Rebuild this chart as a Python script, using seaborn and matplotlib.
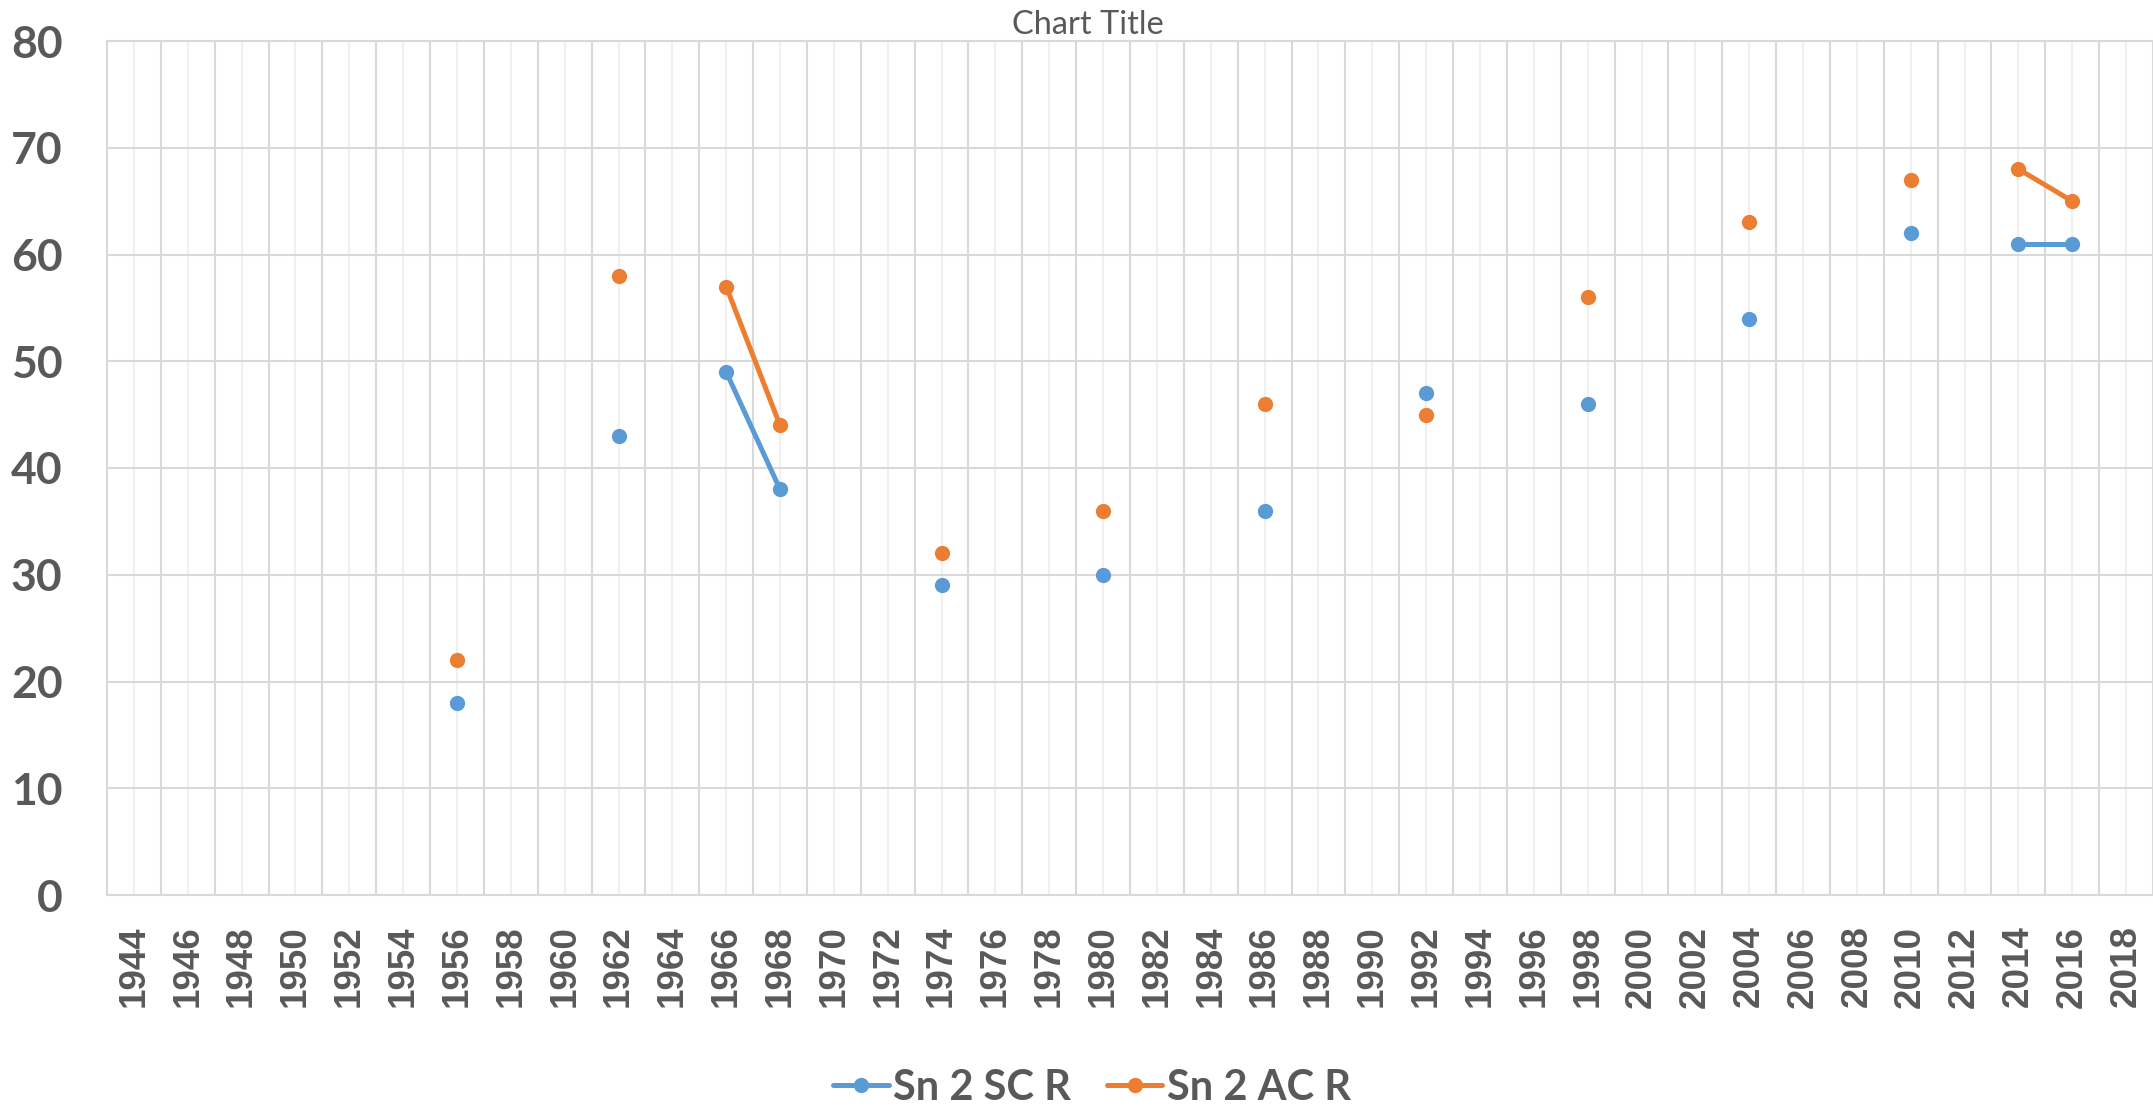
import numpy as np
import pandas as pd
import seaborn as sns
import matplotlib.pyplot as plt
from matplotlib.lines import Line2D
from matplotlib.ticker import MultipleLocator

# even years on the axis, NaN where there is no value
YEARS = list(range(1944, 2019, 2))
SC_POINTS = {1956: 18, 1962: 43, 1966: 49, 1968: 38, 1974: 29, 1980: 30, 1986: 36,
             1992: 47, 1998: 46, 2004: 54, 2010: 62, 2014: 61, 2016: 61}
AC_POINTS = {1956: 22, 1962: 58, 1966: 57, 1968: 44, 1974: 32, 1980: 36, 1986: 46,
             1992: 45, 1998: 56, 2004: 63, 2010: 67, 2014: 68, 2016: 65}
SC_VALUES = [SC_POINTS.get(y, np.nan) for y in YEARS]
AC_VALUES = [AC_POINTS.get(y, np.nan) for y in YEARS]
SERIES = ["Sn 2 SC R", "Sn 2 AC R"]
COLORS = ["#5B9BD5", "#ED7D31"]

TEXT = "#595959"
GRID_DARK = "#D9D9D9"
GRID_LIGHT = "#F0F0F0"


def to_frame(name, values):
    df = pd.DataFrame({"year": YEARS, "value": values, "series": name})
    # break the line wherever a value is missing (Excel "gaps")
    df["seg"] = df["value"].isna().cumsum()
    return df.dropna()


data = pd.concat([to_frame(SERIES[0], SC_VALUES), to_frame(SERIES[1], AC_VALUES)])
data["unit"] = data["series"] + "_" + data["seg"].astype(str)

sns.set_theme(style="white")
plt.rcParams['font.family'] = ['Lato', 'DejaVu Sans']

fig = plt.figure(figsize=(21.53, 11.08), dpi=100)
ax = fig.add_axes([107 / 2153, 1 - 895 / 1108, 1 - 107 / 2153, (895 - 41) / 1108])

sns.lineplot(
    data=data, x="year", y="value", hue="series", hue_order=SERIES,
    palette=COLORS, units="unit", estimator=None, marker="o",
    markersize=11, markeredgewidth=0, linewidth=3.6, legend=False, ax=ax, zorder=3
)

ax.set_xlim(1943, 2018.92)
ax.set_ylim(0, 80)
ax.yaxis.set_major_locator(MultipleLocator(10))
ax.set_xticks(YEARS)
ax.set_xticks(range(1943, 2020, 2), minor=True)
ax.set_xticklabels([str(y) for y in YEARS], rotation=90, fontsize=26.5,
                   fontweight='bold', color=TEXT, family=['Liberation Sans', 'DejaVu Sans'])
ax.tick_params(axis='x', which='both', length=0, pad=22)
ax.tick_params(axis='y', length=0, pad=32, labelsize=32, labelcolor=TEXT)
for lab in ax.get_yticklabels():
    lab.set_fontweight('bold')

ax.grid(True, axis='y', color=GRID_DARK, linewidth=1.5, zorder=0)
ax.grid(True, axis='x', which='minor', color=GRID_DARK, linewidth=1.5, zorder=0)
ax.grid(True, axis='x', which='major', color=GRID_LIGHT, linewidth=1.5, zorder=0)
ax.set_axisbelow(True)
for side in ['left', 'bottom', 'top']:
    ax.spines[side].set_color(GRID_DARK)
    ax.spines[side].set_linewidth(1.5)
ax.spines['right'].set_visible(False)
ax.set_xlabel("")
ax.set_ylabel("")

fig.text(1088 / 2153, 1 - 25 / 1108, "Chart Title", ha='center', va='center',
         fontsize=23.5, color=TEXT)

handles = [Line2D([0], [0], color=c, linewidth=3.6, marker='o', markersize=11,
                  markeredgewidth=0) for c in COLORS]
leg = fig.legend(handles, SERIES, loc='center', bbox_to_anchor=(1092 / 2153, 1 - 1088 / 1108),
                 ncol=2, frameon=False, handlelength=1.33, handletextpad=0.1,
                 columnspacing=0.87, prop={'size': 30, 'weight': 'bold'})
for t in leg.get_texts():
    t.set_color(TEXT)

plt.savefig("out.png", dpi=100)
plt.close()
